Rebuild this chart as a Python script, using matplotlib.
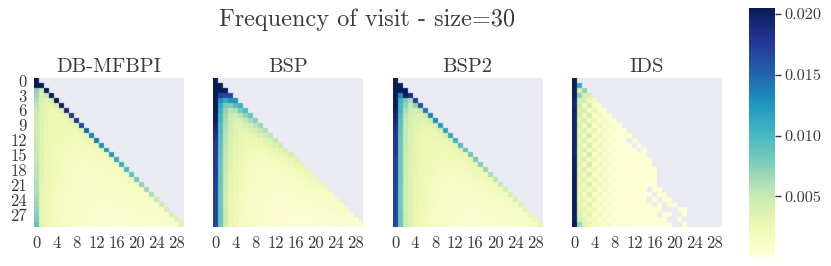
import numpy as np
import matplotlib
matplotlib.use("Agg")
import matplotlib.pyplot as plt

titles = ["DB-MFBPI", "BSP", "BSP2", "IDS"]
suptitle = "Frequency of visit - size=30"
x_ticks = [0, 4, 8, 12, 16, 20, 24, 28]
y_ticks = [0, 3, 6, 9, 12, 15, 18, 21, 24, 27]
cbar_ticks = [0.005, 0.010, 0.015, 0.020]
scale = 1e-4  # table entries are in units of 0.0001; 0 = never visited

db_rows = [
[205],
[205,205],
[72,45,205],
[65,42,48,205],
[60,38,34,42,205],
[55,36,30,30,38,200],
[50,36,28,27,28,34,190],
[47,36,27,26,25,26,32,180],
[46,35,27,25,24,23,25,30,178],
[46,35,26,24,23,22,22,24,28,165],
[46,35,26,24,22,21,21,21,23,28,150],
[47,35,26,24,22,21,20,20,20,22,26,135],
[50,34,26,23,22,20,19,19,19,19,21,25,140],
[50,34,26,23,21,20,19,18,18,18,19,20,24,128],
[50,34,26,23,21,19,18,18,17,17,17,18,20,23,125],
[52,34,25,22,21,19,18,17,16,16,16,17,18,19,22,122],
[52,33,25,22,20,19,17,16,15,15,15,15,16,17,18,21,112],
[55,33,25,22,20,18,17,16,15,14,14,14,15,15,16,18,20,108],
[55,33,25,22,20,18,16,15,14,13,13,13,13,14,15,16,17,19,98],
[55,33,24,22,19,17,16,15,14,13,12,12,12,13,13,14,15,16,18,90],
[57,33,24,21,19,17,15,14,13,12,12,11,11,12,12,13,14,15,16,17,80],
[60,32,24,21,19,17,15,14,13,12,11,11,10,10,11,12,12,13,14,15,16,72],
[60,32,24,21,18,16,15,13,12,11,10,10,9,9,10,10,11,12,12,13,14,15,68],
[62,32,24,21,18,16,14,13,12,11,10,9,9,9,9,9,10,10,11,12,12,13,14,60],
[65,32,23,20,18,16,14,13,11,10,9,9,8,8,8,8,9,9,10,10,11,11,12,13,52],
[68,32,23,20,18,15,14,12,11,10,9,8,8,7,7,7,8,8,9,9,9,10,11,11,12,46],
[72,32,23,20,17,15,13,12,11,10,9,8,7,7,6,6,7,7,8,8,8,9,9,10,10,11,42],
[75,32,23,20,17,15,13,12,10,9,8,8,7,6,6,6,6,6,7,7,7,8,8,9,9,10,11,38],
[80,31,22,19,17,14,13,11,10,9,8,7,7,6,5,5,5,5,6,6,6,7,7,7,8,8,9,10,34],
[88,31,22,19,17,14,13,11,10,9,8,7,6,6,5,5,4,4,5,5,5,5,6,6,6,7,7,8,9,34],
]

bsp_rows = [
[205],
[205,205],
[205,205,205],
[205,170,165,165],
[205,125,110,125,125],
[205,110,78,75,95,105],
[205,105,70,55,60,80,95],
[200,100,65,48,46,55,70,85],
[200,100,62,45,38,40,50,62,75],
[195,95,60,43,36,34,38,45,55,68],
[190,95,58,42,35,30,31,35,40,50,60],
[185,92,56,41,34,28,27,28,31,36,45,55],
[180,90,55,40,33,27,25,24,25,28,33,40,50],
[178,90,54,38,32,26,23,22,22,23,26,31,38,45],
[178,88,53,37,31,26,22,20,19,19,21,24,28,34,42],
[178,88,52,36,30,25,22,19,18,17,18,20,22,26,31,38],
[176,86,51,35,29,24,21,18,17,16,16,17,18,21,24,28,34],
[175,85,50,34,28,23,20,18,16,15,14,15,16,17,19,22,26,30],
[175,84,50,33,27,22,19,17,15,14,13,13,14,15,16,18,20,23,27],
[175,84,49,32,26,21,18,16,14,13,12,12,12,13,14,15,17,19,21,24],
[174,84,48,32,25,20,17,15,14,12,11,11,11,11,12,13,14,16,18,20,22],
[172,84,47,31,25,20,17,15,13,12,10,10,10,10,10,11,12,13,15,17,18,20],
[172,84,46,30,24,19,16,14,12,11,10,9,9,9,9,9,10,11,12,14,15,16,17],
[172,84,46,29,23,18,15,13,12,10,9,8,8,8,8,8,9,9,10,11,12,13,14,15],
[170,84,45,29,23,18,15,13,11,10,9,8,7,7,7,7,7,8,8,9,10,11,12,12,13],
[170,84,45,28,22,17,14,12,11,9,8,7,7,6,6,6,6,7,7,8,8,9,10,10,11,12],
[170,85,45,28,22,17,14,12,10,9,8,7,6,6,5,5,5,6,6,6,7,7,8,9,9,10,10],
[170,85,45,28,21,17,13,11,10,8,7,7,6,5,5,5,5,5,5,5,6,6,6,7,7,8,8,9],
[170,85,45,27,21,16,13,11,9,8,7,6,6,5,5,4,4,4,4,4,5,5,5,6,6,6,7,7,7],
[170,85,45,27,21,16,13,11,9,8,7,6,5,5,4,4,4,4,4,4,4,4,4,5,5,5,5,6,6,6],
]

bsp2_rows = [
[205],
[205,205],
[205,205,205],
[205,130,205,190],
[205,105,80,60,175],
[205,100,70,50,70,160],
[200,100,62,45,40,50,140],
[195,95,55,42,38,36,48,135],
[190,92,52,40,36,33,33,42,130],
[185,90,50,40,34,31,30,31,40,120],
[182,88,50,39,33,30,28,28,30,38,115],
[180,86,50,38,32,29,27,26,27,29,36,110],
[178,85,50,38,32,28,26,25,25,26,28,34,105],
[178,84,49,37,31,28,25,24,23,24,25,27,32,95],
[178,84,49,37,31,27,25,23,22,22,23,24,26,30,90],
[176,84,48,36,30,27,24,22,21,20,21,22,23,25,28,85],
[172,84,48,36,30,26,23,21,20,19,19,20,21,22,24,27,80],
[172,84,47,36,30,26,23,21,19,18,18,18,19,20,21,23,26,75],
[170,84,47,35,30,25,22,20,18,17,17,17,17,18,19,20,22,25,68],
[170,84,47,35,29,25,22,20,18,16,16,15,16,16,17,18,20,21,24,62],
[170,84,46,35,29,25,21,19,17,16,15,14,14,15,15,16,17,19,20,23,55],
[170,82,46,35,29,24,21,19,16,15,14,13,13,13,14,15,15,16,18,19,21,50],
[168,82,46,34,28,24,21,18,16,14,13,12,12,12,12,13,14,15,16,17,18,20,45],
[168,82,46,34,28,24,20,18,15,14,13,12,11,11,11,12,12,13,14,15,16,17,19,40],
[168,82,46,34,28,23,20,17,15,14,12,11,10,10,10,10,11,11,12,13,14,15,16,18,38],
[168,82,46,34,28,23,20,17,15,13,12,11,10,9,9,9,10,10,11,11,12,13,14,15,16,35],
[168,82,46,34,27,23,19,17,14,13,11,10,9,8,8,8,8,9,9,10,10,11,12,13,14,15,30],
[168,84,47,34,27,23,19,16,14,12,11,10,9,8,7,7,7,8,8,8,9,9,10,11,12,13,14,28],
[168,84,47,34,27,22,19,16,14,12,10,9,8,7,6,6,6,7,7,7,8,8,9,9,10,11,12,13,25],
[168,85,48,34,28,22,19,16,14,12,10,9,8,7,6,5,5,5,6,6,6,7,7,8,8,9,10,11,12,28],
]

ids_rows = [
[205],
[205,110],
[200,38,70],
[200,70,38,38],
[195,38,40,20,18],
[195,45,18,42,12,12],
[198,38,40,14,26,8,7],
[195,42,20,44,10,20,6,5],
[195,30,40,14,28,8,16,4,4],
[195,36,20,44,10,22,6,10,3,3],
[195,28,40,14,28,8,16,4,6,2,2],
[195,34,18,44,10,22,6,10,3,4,2,2],
[195,26,38,14,28,8,16,4,8,2,3,0,2],
[195,32,18,44,10,22,6,10,3,5,2,2,0,2],
[195,26,38,14,28,8,16,4,8,2,3,1,1,0,2],
[195,32,18,44,10,22,6,10,3,5,2,2,1,1,1],
[198,26,38,14,28,8,16,4,8,2,3,1,2,1,1,1],
[198,32,18,44,10,22,6,10,3,5,2,2,1,1,1,1],
[198,26,36,14,28,8,16,4,8,3,4,2,2,1,1,1,1],
[200,30,18,42,10,20,6,10,4,6,2,3,1,1,1,1,1],
[200,26,34,14,28,8,16,5,8,3,4,2,2,1,1,1,1],
[200,30,18,40,10,20,6,11,4,6,3,3,2,2,1,1,1],
[200,24,32,14,26,8,16,5,8,3,4,2,2,1,1,0,1,1],
[200,30,18,38,10,20,6,11,4,6,3,3,2,2,1,1,0,1,1],
[200,26,30,14,26,8,15,5,8,3,4,2,2,1,1,0,1,0,1,1],
[200,30,20,34,12,18,6,10,4,6,2,3,1,1,1,1,0,1,0,1,1],
[200,32,26,18,24,8,14,5,8,3,4,2,2,1,1,1,1,1,0,0,0,1,1],
[200,36,22,30,12,18,6,10,4,6,2,3,1,1,1,1,1,0,1,1,0,0,1],
[200,42,30,16,22,8,14,5,8,3,4,2,2,1,1,1,1,1,1,0,0,1],
[205,66,34,28,12,16,6,9,4,6,2,3,1,1,1,1,1,1,1,1,0,0,1],
]

plt.rcParams["font.family"] = ["cmr10", "DejaVu Sans"]
plt.rcParams["axes.unicode_minus"] = False
plt.rcParams["axes.formatter.use_mathtext"] = True
TEXT = "#3a3a3a"
W, H = 831, 266
vmin, vmax = 0.0, 0.0205


def to_array(rows):
    a = np.full((30, 30), np.nan)
    for i, row in enumerate(rows):
        vals = np.array(row, dtype=float)
        vals[vals == 0] = np.nan
        a[i, :len(row)] = vals * scale
    return np.ma.masked_invalid(a)


def soften(img, dpi):
    """Slight blur of a drawn image, as the reference was resampled."""
    side, mid = 0.12, 0.76
    out = img.astype(float).copy()
    out[..., :3] *= out[..., 3:4]
    for axis in (0, 1):
        n = out.shape[axis]
        prev = np.take(out, np.r_[0, 0:n - 1], axis=axis)
        nxt = np.take(out, np.r_[1:n, n - 1], axis=axis)
        out = side * prev + mid * out + side * nxt
    a = np.clip(out[..., 3:4], 1e-6, None)
    out[..., :3] = np.clip(out[..., :3] / a, 0, 1)
    return out, 0, 0


fig = plt.figure(figsize=(W / 100, H / 100), dpi=100)
fig.patch.set_facecolor("white")
lefts = [34, 213, 392.5, 572]
top, bottom, width = 78, 227, 150
im = None
for left, title, rows in zip(lefts, titles, [db_rows, bsp_rows, bsp2_rows, ids_rows]):
    ax = fig.add_axes([left / W, 1 - bottom / H, width / W, (bottom - top) / H])
    ax.set_facecolor("#EAEAF2")
    im = ax.imshow(to_array(rows), cmap="YlGnBu", vmin=vmin, vmax=vmax,
                   extent=(0, 30, 30, 0), aspect="auto", interpolation="nearest")
    im.set_agg_filter(soften)
    ax.set_xticks(np.array(x_ticks) + 0.5)
    ax.set_xticklabels([str(t) for t in x_ticks], fontsize=12, color=TEXT)
    if left == lefts[0]:
        ax.set_yticks(np.array(y_ticks) + 0.5)
        ax.set_yticklabels([str(t) for t in y_ticks], fontsize=12, color=TEXT, rotation=0)
    else:
        ax.set_yticks([])
    ax.tick_params(axis="x", length=0, pad=6)
    ax.tick_params(axis="y", length=0, pad=5)
    for s in ax.spines.values():
        s.set_visible(False)
    ax.set_title(title, fontsize=14.8, color=TEXT, pad=4)

fig.text(367 / W, 1 - 20 / H, suptitle, fontsize=17.5, color=TEXT, ha="center", va="center")

cax = fig.add_axes([749 / W, 1 - 257 / H, 26 / W, 249 / H])
cb = fig.colorbar(im, cax=cax)
cb.set_ticks(cbar_ticks)
cb.set_ticklabels([f"{t:.3f}" for t in cbar_ticks])
cb.ax.tick_params(length=4, width=1, color=TEXT, labelsize=11.7, labelcolor=TEXT, pad=3)
cb.outline.set_visible(False)

fig.savefig("out.png", dpi=100)
